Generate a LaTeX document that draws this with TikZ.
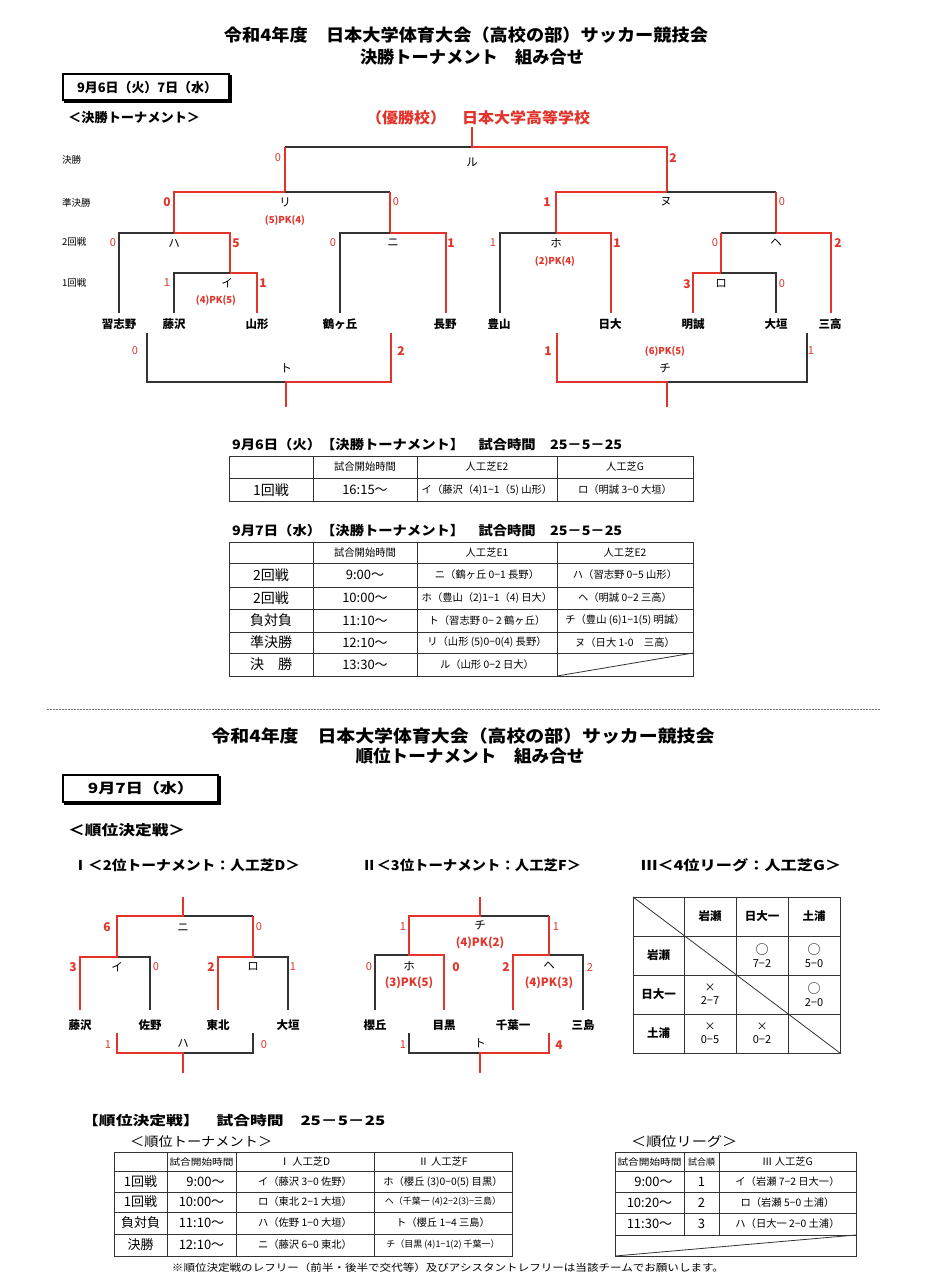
\documentclass[tikz,border=0pt]{standalone}
\usepackage{fontspec}
\usepackage{graphicx}
\setmainfont{Noto Sans CJK JP}
\definecolor{wr}{HTML}{E2342B}
\definecolor{ln}{HTML}{333333}
\newcommand\fs[1]{\fontsize{#1}{#1}\selectfont}
\newcommand\fw[2]{\resizebox{#1pt}{\height}{#2}}
\begin{document}
\begin{tikzpicture}[x=1pt,y=-1pt,
  bl/.style={draw=ln, line width=1.1pt},
  rl/.style={draw=wr, line width=1.8pt},
  tl/.style={draw=ln, line width=0.8pt},
  sr/.style={text=wr, font=\fs{11}, inner sep=0},
  br/.style={text=wr, font=\bfseries\fs{12}, inner sep=0},
  tm/.style={font=\bfseries\fs{11.5}, inner sep=0},
  mk/.style={font=\fs{11.5}, inner sep=0},
  pk/.style={text=wr, font=\bfseries\fs{9.5}, inner sep=0},
  pkb/.style={text=wr, font=\bfseries\fs{11.5}, inner sep=0},
  lab/.style={font=\fs{9.5}, anchor=west, inner sep=0},
  hd/.style={font=\bfseries\fs{13}, inner sep=0},
  cA/.style={font=\fs{14}, inner sep=0},
  cB/.style={font=\fs{13}, inner sep=0},
  cC/.style={font=\fs{10.3}, inner sep=0},
  cL/.style={font=\fs{11}, inner sep=0, align=center},
  cS/.style={font=\fs{9}, inner sep=0},
  ttl/.style={font=\bfseries\fs{17}, inner sep=0}]
\useasboundingbox (0,0) rectangle (929,1280);
\fill[white] (0,0) rectangle (929,1280);

% ===== Titles =====
\node[ttl] (title1) at (466,35) {\fw{484}{令和4年度　日本大学体育大会（高校の部）サッカー競技会}};
\node[ttl] (title2) at (472,57) {\fw{224}{決勝トーナメント　組み合せ}};
\draw[line width=1.2pt] (63,74) rectangle (229,100);
\draw[line width=2.4pt] (64,101.5) -- (230.5,101.5) -- (230.5,75);
\node[font=\bfseries\fs{13}, inner sep=0] (date1) at (147,88) {\fw{140}{9月6日（火）7日（水）}};
\node[font=\bfseries\fs{13}, inner sep=0, anchor=west] (sub1) at (68,118) {\fw{132}{＜決勝トーナメント＞}};
\node[font=\bfseries\fs{15}, text=wr, inner sep=0] (champ) at (478,118) {\fw{224}{（優勝校）　日本大学高等学校}};

% round labels
\node[lab] (r1) at (62,160) {決勝};
\node[lab] (r2) at (62,203) {準決勝};
\node[lab] (r3) at (62,242) {2回戦};
\node[lab] (r4) at (62,283) {1回戦};

% ===== Main bracket lines =====
\draw[bl] (285,147) -- (472,147);
\draw[rl] (472,127) -- (472,147) -- (667,147) -- (667,192);
\draw[rl] (285,147) -- (285,192);
\draw[bl] (285,192) -- (390,192);
\draw[rl] (285,192) -- (174,192) -- (174,233);
\draw[rl] (390,192) -- (390,233);
\draw[bl] (119,313) -- (119,233) -- (174,233);
\draw[rl] (174,233) -- (230,233) -- (230,273);
\draw[bl] (174,313) -- (174,273) -- (230,273);
\draw[rl] (230,273) -- (257,273) -- (257,313);
\draw[bl] (340,313) -- (340,233) -- (390,233);
\draw[rl] (390,233) -- (446,233) -- (446,313);
\draw[bl] (667,192) -- (776,192);
\draw[rl] (667,192) -- (556,192) -- (556,233);
\draw[rl] (776,192) -- (776,233);
\draw[bl] (500,313) -- (500,233) -- (556,233);
\draw[rl] (556,233) -- (611,233) -- (611,313);
\draw[bl] (721,233) -- (776,233);
\draw[rl] (776,233) -- (831,233) -- (831,313);
\draw[rl] (721,233) -- (721,273);
\draw[bl] (721,273) -- (776,273) -- (776,313);
\draw[rl] (721,273) -- (693,273) -- (693,313);
\draw[bl] (147,333) -- (147,382) -- (286,382);
\draw[rl] (391,333) -- (391,382) -- (286,382) -- (286,407);
\draw[bl] (807,333) -- (807,382) -- (667,382);
\draw[rl] (557,333) -- (557,382) -- (667,382) -- (667,407);

% ===== Main bracket labels =====
\node[mk] (mRu) at (472,162) {ル};
\node[sr] (sRuL) at (278,158) {0};
\node[br] (sRuR) at (673,158) {2};
\node[mk] (mRi) at (285,202) {リ};
\node[pk] (pRi) at (285,220) {(5)PK(4)};
\node[br] (sRiL) at (167,202) {0};
\node[sr] (sRiR) at (396,202) {0};
\node[mk] (mNu) at (666,202) {ヌ};
\node[br] (sNuL) at (547,202) {1};
\node[sr] (sNuR) at (782,202) {0};
\node[mk] (mHa) at (174,243) {ハ};
\node[sr] (sHaL) at (113,243) {0};
\node[br] (sHaR) at (236,243) {5};
\node[mk] (mNi) at (393,243) {ニ};
\node[sr] (sNiL) at (333,243) {0};
\node[br] (sNiR) at (451,243) {1};
\node[mk] (mHo) at (556,243) {ホ};
\node[sr] (sHoL) at (493,243) {1};
\node[br] (sHoR) at (617,243) {1};
\node[pk] (pHo) at (555,261) {(2)PK(4)};
\node[mk] (mHe) at (776,243) {ヘ};
\node[sr] (sHeL) at (715,243) {0};
\node[br] (sHeR) at (838,243) {2};
\node[mk] (mI) at (227,283) {イ};
\node[sr] (sIL) at (167,283) {1};
\node[br] (sIR) at (263,283) {1};
\node[pk] (pI) at (216,300) {(4)PK(5)};
\node[mk] (mRo) at (721,284) {ロ};
\node[br] (sRoL) at (687,284) {3};
\node[sr] (sRoR) at (782,284) {0};
\node[mk] (mTo) at (286,368) {ト};
\node[sr] (sToL) at (135,351) {0};
\node[br] (sToR) at (401,351) {2};
\node[mk] (mChi) at (665,368) {チ};
\node[pk] (pChi) at (665,351) {(6)PK(5)};
\node[br] (sChiL) at (548,351) {1};
\node[sr] (sChiR) at (811,351) {1};

% teams
\node[tm] (t1) at (119,324) {習志野};
\node[tm] (t2) at (174,324) {藤沢};
\node[tm] (t3) at (257,324) {山形};
\node[tm] (t4) at (340,324) {鶴ヶ丘};
\node[tm] (t5) at (445,324) {長野};
\node[tm] (t6) at (499,324) {豊山};
\node[tm] (t7) at (610,324) {日大};
\node[tm] (t8) at (693,324) {明誠};
\node[tm] (t9) at (776,324) {大垣};
\node[tm] (t10) at (830,324) {三高};

% ===== Table 1 =====
\node[hd, anchor=west] (tt1) at (232,445) {\fw{390}{9月6日（火）【決勝トーナメント】　試合時間　25－5－25}};
\draw[tl] (229,456) rectangle (693,501);
\draw[tl] (229,478) -- (693,478);
\foreach \x in {313,417,557} \draw[tl] (\x,456) -- (\x,501);
\node[cC] (a1) at (365,467) {試合開始時間};
\node[cC] (a2) at (487,467) {人工芝E2};
\node[cC] (a3) at (625,467) {人工芝G};
\node[cA] (a4) at (271,490) {1回戦};
\node[cB] (a5) at (365,490) {16:15～};
\node[cC] (a6) at (487,490) {イ（藤沢（4)1−1（5) 山形）};
\node[cC] (a7) at (625,490) {ロ（明誠 3−0 大垣）};

% ===== Table 2 =====
\node[hd, anchor=west] (tt2) at (232,531) {\fw{390}{9月7日（水）【決勝トーナメント】　試合時間　25－5－25}};
\draw[tl] (229,542) rectangle (693,676);
\foreach \y in {563,587,609,632,653} \draw[tl] (229,\y) -- (693,\y);
\foreach \x in {313,417,557} \draw[tl] (\x,542) -- (\x,676);
\draw[tl] (557,676) -- (693,653);
\node[cC] (b1) at (365,553) {試合開始時間};
\node[cC] (b2) at (487,553) {人工芝E1};
\node[cC] (b3) at (625,553) {人工芝E2};
\node[cA] (b4) at (271,575) {2回戦};
\node[cB] (b5) at (365,575) {9:00～};
\node[cC] (b6) at (487,575) {ニ（鶴ヶ丘 0−1 長野）};
\node[cC] (b7) at (625,575) {ハ（習志野 0−5 山形）};
\node[cA] (b8) at (271,598) {2回戦};
\node[cB] (b9) at (365,598) {10:00～};
\node[cC] (b10) at (487,598) {ホ（豊山（2)1−1（4) 日大）};
\node[cC] (b11) at (625,598) {ヘ（明誠 0−2 三高）};
\node[cA] (b12) at (271,620.5) {負対負};
\node[cB] (b13) at (365,620.5) {11:10～};
\node[cC] (b14) at (487,620.5) {ト（習志野 0− 2 鶴ヶ丘）};
\node[cC] (b15) at (625,620.5) {チ（豊山 (6)1−1(5) 明誠）};
\node[cA] (b16) at (271,642.5) {準決勝};
\node[cB] (b17) at (365,642.5) {12:10～};
\node[cC] (b18) at (487,642.5) {リ（山形 (5)0−0(4) 長野）};
\node[cC] (b19) at (625,642.5) {ヌ（日大 1-0　三高）};
\node[cA] (b20) at (271,664.5) {決　勝};
\node[cB] (b21) at (365,664.5) {13:30～};
\node[cC] (b22) at (487,664.5) {ル（山形 0−2 日大）};

% ===== separator =====
\draw[ln!70, line width=0.8pt, dash pattern=on 1.5pt off 1.5pt] (47,709) -- (880,709);

% ===== Section 2 titles =====
\node[ttl] (title3) at (463,736) {\fw{503}{令和4年度　日本大学体育大会（高校の部）サッカー競技会}};
\node[ttl] (title4) at (470,756) {\fw{229}{順位トーナメント　組み合せ}};
\draw[line width=1.2pt] (63,775) rectangle (218,802);
\draw[line width=2.4pt] (64,803.5) -- (219.5,803.5) -- (219.5,776);
\node[font=\bfseries\fs{14}, inner sep=0] (date2) at (141,788) {\fw{106}{9月7日（水）}};
\node[font=\bfseries\fs{14}, inner sep=0, anchor=west] (sub2) at (68,830) {\fw{117}{＜順位決定戦＞}};
\node[font=\bfseries\fs{13.5}, inner sep=0, anchor=west] (h1) at (73,865) {\fw{227}{Ⅰ＜2位トーナメント：人工芝D＞}};
\node[font=\bfseries\fs{13.5}, inner sep=0, anchor=west] (h2) at (362,865) {\fw{219}{Ⅱ＜3位トーナメント：人工芝F＞}};
\node[font=\bfseries\fs{13.5}, inner sep=0, anchor=west] (h3) at (641,865) {\fw{200}{Ⅲ＜4位リーグ：人工芝G＞}};

% ===== Bracket I =====
\draw[bl] (183,916) -- (253,916);
\draw[bl] (117,957) -- (150,957) -- (150,1010);
\draw[bl] (253,957) -- (288,957) -- (288,1010);
\draw[rl] (183,897) -- (183,916) -- (117,916) -- (117,957) -- (80,957) -- (80,1010);
\draw[rl] (253,916) -- (253,957) -- (218,957) -- (218,1010);
\draw[bl] (253,1033) -- (253,1053) -- (183,1053);
\draw[rl] (117,1033) -- (117,1053) -- (183,1053) -- (183,1073);
\node[br] (s1a) at (107,927) {6};
\node[mk] (m1a) at (183,928) {ニ};
\node[sr] (s1b) at (259,927) {0};
\node[br] (s1c) at (73,967) {3};
\node[mk] (m1b) at (117,967) {イ};
\node[sr] (s1d) at (156,967) {0};
\node[br] (s1e) at (211,967) {2};
\node[mk] (m1c) at (253,967) {ロ};
\node[sr] (s1f) at (293,967) {1};
\node[tm] (u1) at (80,1025) {藤沢};
\node[tm] (u2) at (150,1025) {佐野};
\node[tm] (u3) at (218,1025) {東北};
\node[tm] (u4) at (288,1025) {大垣};
\node[sr] (s1g) at (108,1045) {1};
\node[mk] (m1d) at (183,1043) {ハ};
\node[sr] (s1h) at (264,1045) {0};

% ===== Bracket II =====
\draw[bl] (480,916) -- (549,916);
\draw[bl] (409,955) -- (375,955) -- (375,1010);
\draw[bl] (549,955) -- (583,955) -- (583,1010);
\draw[rl] (480,897) -- (480,916) -- (409,916) -- (409,955) -- (444,955) -- (444,1010);
\draw[rl] (549,916) -- (549,955) -- (513,955) -- (513,1010);
\draw[bl] (409,1033) -- (409,1053) -- (480,1053);
\draw[rl] (549,1033) -- (549,1053) -- (480,1053) -- (480,1073);
\node[sr] (s2a) at (403,927) {1};
\node[mk] (m2a) at (480,925) {チ};
\node[pkb] (p2a) at (480,943) {(4)PK(2)};
\node[sr] (s2b) at (556,927) {1};
\node[sr] (s2c) at (369,967) {0};
\node[mk] (m2b) at (409,966) {ホ};
\node[br] (s2d) at (456,967) {0};
\node[pkb] (p2b) at (409,983) {(3)PK(5)};
\node[br] (s2e) at (506,967) {2};
\node[mk] (m2c) at (549,966) {ヘ};
\node[sr] (s2f) at (590,967) {2};
\node[pkb] (p2c) at (549,983) {(4)PK(3)};
\node[tm] (v1) at (375,1025) {櫻丘};
\node[tm] (v2) at (444,1025) {目黒};
\node[tm] (v3) at (513,1025) {千葉一};
\node[tm] (v4) at (583,1025) {三島};
\node[sr] (s2g) at (403,1045) {1};
\node[mk] (m2d) at (480,1043) {ト};
\node[br] (s2h) at (559,1045) {4};

% ===== League table =====
\draw[tl] (633,897) rectangle (840,1053);
\foreach \y in {936,975,1014} \draw[tl] (633,\y) -- (840,\y);
\foreach \x in {684,736,788} \draw[tl] (\x,897) -- (\x,1053);
\draw[tl] (633,897) -- (840,1053);
\node[tm] (L1) at (710,916.5) {岩瀬};
\node[tm] (L2) at (762,916.5) {日大一};
\node[tm] (L3) at (814,916.5) {土浦};
\node[tm] (L4) at (658.5,955.5) {岩瀬};
\node[tm] (L5) at (658.5,994.5) {日大一};
\node[tm] (L6) at (658.5,1033.5) {土浦};
\node[cL] (L7) at (762,955.5) {{\fs{13}○}\\[2pt]7−2};
\node[cL] (L8) at (814,955.5) {{\fs{13}○}\\[2pt]5−0};
\node[cL] (L9) at (710,994.5) {×\\[2pt]2−7};
\node[cL] (L10) at (814,994.5) {{\fs{13}○}\\[2pt]2−0};
\node[cL] (L11) at (710,1033.5) {×\\[2pt]0−5};
\node[cL] (L12) at (762,1033.5) {×\\[2pt]0−2};

% ===== Bottom tables =====
\node[hd, anchor=west] (tt3) at (82,1121) {\fw{303}{【順位決定戦】　試合時間　25－5－25}};
\node[font=\fs{13}, inner sep=0, anchor=west] (tt4) at (130,1142) {\fw{142}{＜順位トーナメント＞}};
\node[font=\fs{13}, inner sep=0, anchor=west] (tt5) at (631,1142) {\fw{106}{＜順位リーグ＞}};

\draw[tl] (114,1152) rectangle (512,1256);
\foreach \y in {1171,1192,1212,1234} \draw[tl] (114,\y) -- (512,\y);
\foreach \x in {167,236,374} \draw[tl] (\x,1152) -- (\x,1256);
\node[cS] (d1) at (201.5,1162) {\fw{64}{試合開始時間}};
\node[cC] (d2) at (305,1162) {Ⅰ 人工芝D};
\node[cC] (d3) at (443,1162) {Ⅱ 人工芝F};
\node[cB] (d4) at (140.5,1182) {1回戦};
\node[cB] (d5) at (201.5,1182) {\hspace*{8pt}9:00～};
\node[cC] (d6) at (305,1182) {イ（藤沢 3−0 佐野）};
\node[cC] (d7) at (443,1182) {ホ（櫻丘 (3)0−0(5) 目黒）};
\node[cB] (d8) at (140.5,1202) {1回戦};
\node[cB] (d9) at (201.5,1202) {10:00～};
\node[cC] (d10) at (305,1202) {ロ（東北 2−1 大垣）};
\node[cS] (d11) at (443,1202) {ヘ（千葉一 (4)2−2(3)−三島）};
\node[cB] (d12) at (140.5,1223) {負対負};
\node[cB] (d13) at (201.5,1223) {11:10～};
\node[cC] (d14) at (305,1223) {ハ（佐野 1−0 大垣）};
\node[cC] (d15) at (443,1223) {ト（櫻丘 1−4 三島）};
\node[cB] (d16) at (140.5,1245) {決勝};
\node[cB] (d17) at (201.5,1245) {12:10～};
\node[cC] (d18) at (305,1245) {ニ（藤沢 6−0 東北）};
\node[cS] (d19) at (443,1245) {チ（目黒 (4)1−1(2) 千葉一）};

\draw[tl] (615,1152) rectangle (856,1256);
\foreach \y in {1171,1192,1213,1235} \draw[tl] (615,\y) -- (856,\y);
\foreach \x in {684,719} \draw[tl] (\x,1152) -- (\x,1235);
\draw[tl] (615,1256) -- (856,1235);
\node[cS] (e1) at (649.5,1162) {\fw{64}{試合開始時間}};
\node[cS] (e2) at (701.5,1162) {試合順};
\node[cC] (e3) at (787.5,1162) {Ⅲ 人工芝G};
\node[cB] (e4) at (649.5,1182) {\hspace*{8pt}9:00～};
\node[cB] (e5) at (701.5,1182) {1};
\node[cC] (e6) at (787.5,1182) {イ（岩瀬 7−2 日大一）};
\node[cB] (e7) at (649.5,1203) {10:20～};
\node[cB] (e8) at (701.5,1203) {2};
\node[cC] (e9) at (787.5,1203) {ロ（岩瀬 5−0 土浦）};
\node[cB] (e10) at (649.5,1224) {11:30～};
\node[cB] (e11) at (701.5,1224) {3};
\node[cC] (e12) at (787.5,1224) {ハ（日大一 2−0 土浦）};

\node[font=\fs{10}, inner sep=0] (foot) at (448,1268) {\fw{552}{※順位決定戦のレフリー（前半・後半で交代等）及びアシスタントレフリーは当該チームでお願いします。}};
\end{tikzpicture}
\end{document}
